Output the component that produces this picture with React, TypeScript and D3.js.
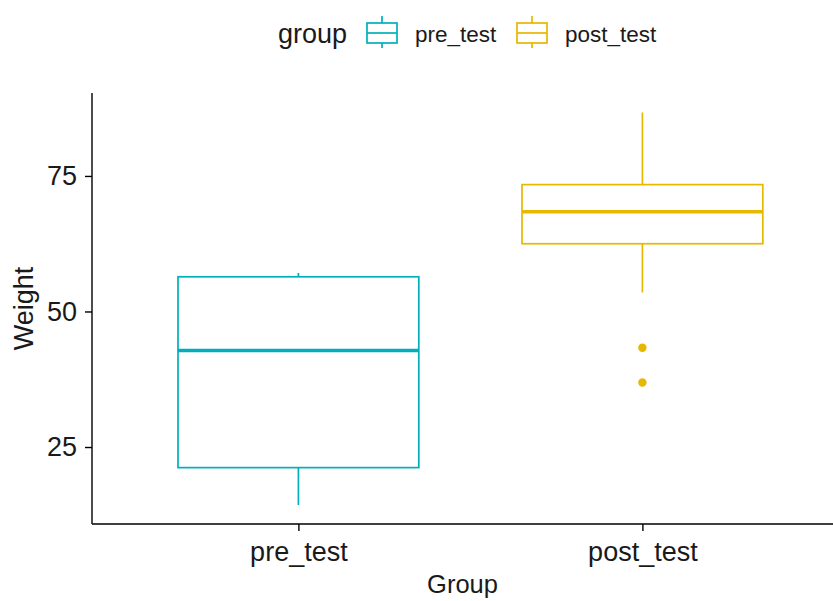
import React, { useEffect, useRef } from "react";
import * as d3 from "d3";

// box stats
const groups = ["pre_test", "post_test"];
const colors = ["#00AFBB", "#E7B800"];
const lowerWhisker = [14.3, 53.5];
const q1 = [21.2, 62.5];
const median = [42.8, 68.4];
const q3 = [56.4, 73.4];
const upperWhisker = [57.1, 86.7];
const outliers = [[], [43.3, 36.9]];
const yTicks = [25, 50, 75];

export default function App() {
  const ref = useRef<SVGSVGElement>(null);

  useEffect(() => {
    const width = 833;
    const left = 92;
    const top = 93;
    const bottom = 524;
    const font = "'Liberation Sans', Arial, sans-serif";

    const svg = d3.select(ref.current);
    svg.selectAll("*").remove();

    const x = d3.scaleLinear().domain([0.4, 2.6]).range([left, left + 2.2 * 344]);
    const y = d3.scaleLinear().domain([10.8, 90.3]).range([bottom, top]);
    const boxW = x(0.7) - x(0);

    const g = svg.append("g");

    groups.forEach((grp, i) => {
      const cx = x(i + 1);
      const c = colors[i];
      // whiskers
      g.append("line")
        .attr("x1", cx).attr("x2", cx)
        .attr("y1", y(upperWhisker[i])).attr("y2", y(q3[i]))
        .attr("stroke", c).attr("stroke-width", 1.7);
      g.append("line")
        .attr("x1", cx).attr("x2", cx)
        .attr("y1", y(q1[i])).attr("y2", y(lowerWhisker[i]))
        .attr("stroke", c).attr("stroke-width", 1.7);
      g.append("rect")
        .attr("x", cx - boxW / 2)
        .attr("y", y(q3[i]))
        .attr("width", boxW)
        .attr("height", y(q1[i]) - y(q3[i]))
        .attr("fill", "white")
        .attr("stroke", c)
        .attr("stroke-width", 1.7);
      g.append("line")
        .attr("x1", cx - boxW / 2).attr("x2", cx + boxW / 2)
        .attr("y1", y(median[i])).attr("y2", y(median[i]))
        .attr("stroke", c).attr("stroke-width", 3.4);
      g.selectAll(null)
        .data(outliers[i])
        .enter()
        .append("circle")
        .attr("cx", cx)
        .attr("cy", (d) => y(d))
        .attr("r", 4.2)
        .attr("fill", c);
    });

    // axes
    const yAxis = svg.append("g")
      .attr("transform", `translate(${left},0)`)
      .call(d3.axisLeft(y).tickValues(yTicks).tickSize(7).tickPadding(8));
    yAxis.select(".domain").attr("d", `M0,${top}V${bottom}`).attr("stroke", "#000").attr("stroke-width", 1.4);
    yAxis.selectAll(".tick line").attr("stroke", "#000").attr("stroke-width", 1.4);
    yAxis.selectAll(".tick text")
      .attr("font-family", font).attr("font-size", 27).attr("fill", "#1a1a1a");

    const xAxis = svg.append("g")
      .attr("transform", `translate(0,${bottom})`)
      .call(
        d3.axisBottom(x)
          .tickValues([1, 2])
          .tickFormat((d) => groups[+d - 1])
          .tickSize(7)
          .tickPadding(11)
      );
    xAxis.select(".domain").attr("d", `M${left},0H${width}`).attr("stroke", "#000").attr("stroke-width", 1.4);
    xAxis.selectAll(".tick line").attr("stroke", "#000").attr("stroke-width", 1.4);
    xAxis.selectAll(".tick text")
      .attr("font-family", font).attr("font-size", 27).attr("fill", "#1a1a1a");

    // axis titles
    svg.append("text")
      .attr("x", (left + width) / 2)
      .attr("y", 593)
      .attr("text-anchor", "middle")
      .attr("font-family", font).attr("font-size", 25.5)
      .attr("fill", "#1a1a1a")
      .text("Group");
    svg.append("text")
      .attr("transform", `translate(33,${(top + bottom) / 2}) rotate(-90)`)
      .attr("text-anchor", "middle")
      .attr("font-family", font).attr("font-size", 27)
      .attr("fill", "#1a1a1a")
      .text("Weight");

    // legend
    const legend = svg.append("g");
    legend.append("text")
      .attr("x", 278).attr("y", 43)
      .attr("font-family", font).attr("font-size", 27)
      .attr("fill", "#1a1a1a")
      .text("group");
    const keyX = [367, 517];
    groups.forEach((grp, i) => {
      const kx = keyX[i];
      const c = colors[i];
      legend.append("line")
        .attr("x1", kx + 15).attr("x2", kx + 15)
        .attr("y1", 16).attr("y2", 48)
        .attr("stroke", c).attr("stroke-width", 1.7);
      legend.append("rect")
        .attr("x", kx).attr("y", 23)
        .attr("width", 30).attr("height", 20)
        .attr("fill", "white").attr("stroke", c).attr("stroke-width", 1.7);
      legend.append("line")
        .attr("x1", kx).attr("x2", kx + 30)
        .attr("y1", 33).attr("y2", 33)
        .attr("stroke", c).attr("stroke-width", 1.7);
      legend.append("text")
        .attr("x", kx + 48).attr("y", 42)
        .attr("font-family", font).attr("font-size", 22.5)
        .attr("fill", "#1a1a1a")
        .text(grp);
    });
  }, []);

  return (
    <svg
      ref={ref}
      width={833}
      height={601}
      style={{ position: "absolute", left: 0, top: 0, background: "white" }}
    />
  );
}
